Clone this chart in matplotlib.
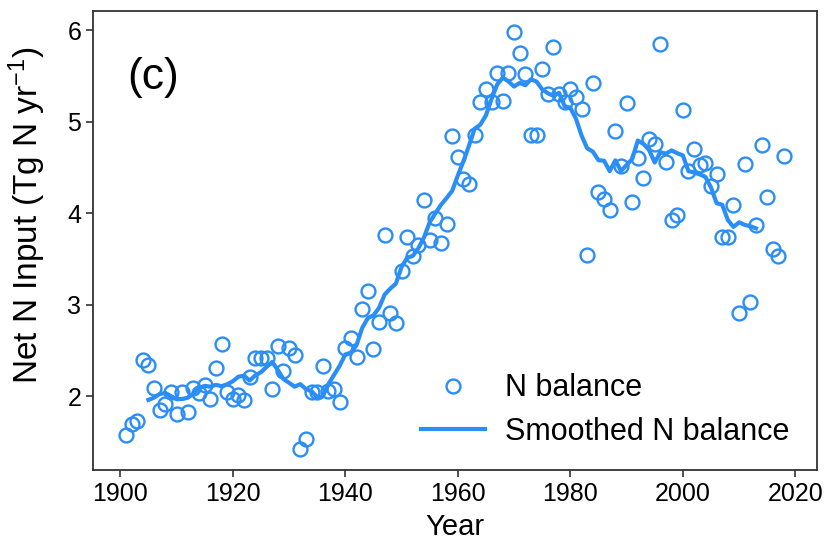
import numpy as np
import pandas as pd
import matplotlib
matplotlib.use('Agg')
import matplotlib.pyplot as plt

plt.rcParams['font.family'] = ['Liberation Sans', 'DejaVu Sans']
plt.rcParams['mathtext.fontset'] = 'custom'
plt.rcParams['mathtext.rm'] = 'Liberation Sans'
plt.rcParams['mathtext.it'] = 'Liberation Sans:italic'

years = np.arange(1901, 2019)

n_balance = [
    1.58, 1.69, 1.73, 2.40, 2.34, 2.09, 1.85, 1.91, 2.04, 1.80,   # 1901-1910
    2.05, 1.83, 2.09, 2.03, 2.12, 1.97, 2.31, 2.57, 2.04, 1.97,   # 1911-1920
    2.01, 1.96, 2.21, 2.42, 2.42, 2.42, 2.08, 2.55, 2.28, 2.53,   # 1921-1930
    2.45, 1.42, 1.53, 2.05, 2.04, 2.33, 2.06, 2.08, 1.94, 2.53,   # 1931-1940
    2.63, 2.43, 2.95, 3.15, 2.51, 2.81, 3.76, 2.91, 2.80, 3.37,   # 1941-1950
    3.74, 3.53, 3.65, 4.14, 3.71, 3.95, 3.67, 3.88, 4.84, 4.61,   # 1951-1960
    4.37, 4.32, 4.85, 5.22, 5.36, 5.22, 5.53, 5.23, 5.53, 5.98,   # 1961-1970
    5.75, 5.52, 4.85, 4.85, 5.58, 5.30, 5.82, 5.30, 5.22, 5.36,   # 1971-1980
    5.27, 5.14, 3.54, 5.42, 4.23, 4.16, 4.04, 4.90, 4.52, 5.21,   # 1981-1990
    4.12, 4.60, 4.38, 4.81, 4.76, 5.85, 4.56, 3.93, 3.98, 5.13,   # 1991-2000
    4.46, 4.70, 4.53, 4.55, 4.30, 4.43, 3.74, 3.74, 4.09, 2.91,   # 2001-2010
    4.54, 3.03, 3.87, 4.75, 4.18, 3.61, 3.53, 4.62,               # 2011-2018
]

window = 9
smooth_end = 2013

s = pd.Series(n_balance, index=years)
smooth = s.rolling(window, center=True).mean()
smooth = smooth[smooth.index <= smooth_end].dropna()

color = '#2a8ef6'

fig = plt.figure(figsize=(8.26, 5.41), dpi=100)
ax = fig.add_axes([0.1126, 0.1312, 0.8765, 0.848])

ax.plot(years, n_balance, 'o', mfc='none', mec=color, ms=10, mew=1.7,
        label='N balance')
ax.plot(smooth.index, smooth.values, '-', color=color, lw=3,
        label='Smoothed N balance')

ax.set_xticks([1900, 1920, 1940, 1960, 1980, 2000, 2020])
ax.set_yticks([2, 3, 4, 5, 6])
ax.tick_params(labelsize=18, length=5, width=1.2, color='#333333')
ax.set_xlabel('Year', fontsize=21, labelpad=5)
ax.set_ylabel('Net N Input (Tg N yr$^{-1}$)', fontsize=24)
ax.yaxis.set_label_coords(-0.062, 0.555)

for sp in ax.spines.values():
    sp.set_color('#333333')
    sp.set_linewidth(1.3)

ax.text(0.083, 0.855, '(c)', transform=ax.transAxes, fontsize=32,
        ha='center', va='center')

ax.legend(loc='lower right', bbox_to_anchor=(1.0, -0.01), frameon=False,
          fontsize=22, handlelength=2.1, handletextpad=0.65, labelspacing=0.45)

fig.savefig('out.png', dpi=100)
